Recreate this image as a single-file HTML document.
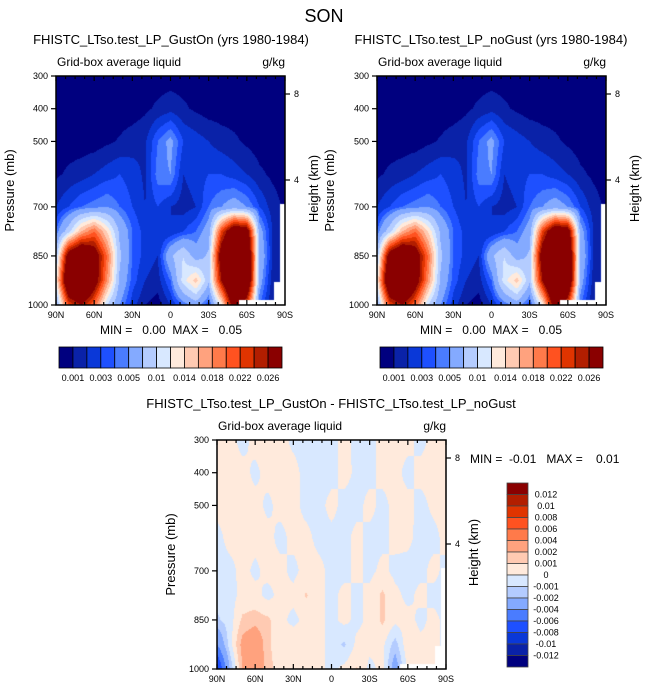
<!DOCTYPE html>
<html><head><meta charset="utf-8">
<style>
html,body{margin:0;padding:0;background:#fff;}
#wrap{position:relative;width:648px;height:694px;overflow:hidden;font-family:"Liberation Sans",Arial,sans-serif;}
canvas{position:absolute;}
svg{position:absolute;left:0;top:0;}
</style></head>
<body>
<div id="wrap">
<canvas id="c1" width="229" height="229" style="left:56px;top:76px"></canvas>
<canvas id="c2" width="229" height="229" style="left:377px;top:76px"></canvas>
<canvas id="c3" width="229" height="229" style="left:217px;top:440px"></canvas>
<svg id="s" width="648" height="694"></svg>
</div>
<script>
const lats=[90,80,70,60,50,40,30,20,10,0,-10,-20,-30,-40,-50,-60,-70,-80,-90];
const levs=[300,400,500,600,700,775,850,925,1000];
const liq300=[.0005,.0005,.0005,.0005,.0005,.0005,.0005,.0005,.0005,.0005,.0005,.0005,.0005,.0005,.0005,.0005,.0005,.0005,.0005];
const liq400=[.0005,.0005,.0005,.0005,.0005,.0005,.0005,.0008,.0012,.0016,.0012,.0008,.0005,.0005,.0005,.0005,.0005,.0005,.0005];
const liq500=[.0005,.0005,.0005,.0005,.0008,.0011,.0015,.0018,.004,.0055,.003,.0025,.002,.0015,.0012,.0008,.0005,.0005,.0005];
const liq600=[.0008,.0012,.0015,.002,.0025,.003,.0025,.0018,.0045,.005,.002,.0025,.003,.003,.0025,.002,.0012,.0008,.0005];
const liq700=[.002,.003,.004,.0045,.005,.004,.003,.002,.003,.002,.0015,.002,.004,.005,.006,.005,.003,.0015,.0008];
const liq775=[.004,.009,.016,.02,.014,.007,.004,.0025,.002,.002,.003,.004,.006,.022,.032,.03,.006,.002,.001];
const liq850=[.008,.03,.035,.03,.02,.008,.004,.0025,.002,.007,.01,.006,.008,.03,.04,.035,.007,.002,.001];
const liq925=[.012,.035,.04,.03,.018,.007,.0035,.002,.0015,.004,.011,.015,.008,.026,.04,.035,.006,.0015,.001];
const liq1000=[.006,.022,.026,.02,.01,.005,.0025,.001,.0005,.002,.004,.006,.003,.012,.03,.022,.004,.001,.001];
const liqB300=[.0005,.0005,.0005,.0005,.0005,.0005,.0005,.0005,.0005,.0005,.0005,.0005,.0005,.0005,.0005,.0005,.0005,.0005,.0005];
const dif300=[.0003,.0003,-.0003,.0003,.0003,.0003,-.0002,-.0003,-.0003,-.0003,.0003,-.0003,-.0003,.0003,.0003,.0003,-.0003,.0003,.0003];
const dif400=[.0003,.0004,.0003,-.0002,.0003,.0003,.0003,-.0003,-.0004,-.0003,.0003,-.0002,-.0003,.0003,.0003,-.0003,.0003,.0003,.0003];
const dif500=[.0003,.0003,.0003,.0003,-.0002,.0003,.0003,-.0003,-.0003,.0003,-.0003,-.0003,.0003,-.0003,.0003,.0003,-.0003,.0002,.0003];
const dif600=[-.0003,.0003,.0003,.0003,.0003,-.0003,.0003,.0003,-.0003,-.0003,-.0003,.0003,-.0003,-.0003,.0003,.0002,-.0003,-.0003,.0003];
const dif700=[-.0003,-.0003,.0003,-.0002,.0003,.0003,-.0003,.0004,.0003,-.0003,-.0003,.0003,-.0003,.0003,-.0003,-.0003,-.0003,.0003,-.0003];
const dif775=[-.0006,-.0004,.0003,.0003,-.0003,.0003,.0003,.0011,.0003,-.0003,.0003,-.0003,.0003,.0012,.0003,-.0003,.0003,-.0003,-.0003];
const dif850=[-.0012,-.0005,.0012,.0015,.0012,.0003,-.0003,.0003,.0003,-.0003,.0003,-.0003,.0003,.0012,.0003,.0004,-.0003,.0003,-.0003];
const dif925=[-.004,-.0005,.0025,.0035,.0012,.0003,.0008,.0003,.0003,-.0003,-.0012,.0003,.0003,.0003,-.0015,.0008,.0003,.0003,-.0003];
const dif1000=[-.009,-.002,.002,.003,.0015,.0003,.0003,.0003,.0003,-.0003,.0003,.0011,-.0003,.0003,-.003,.0003,.0003,.0003,-.0003];
const liqGrid=[liq300,liq400,liq500,liq600,liq700,liq775,liq850,liq925,liq1000];
const liqGrid2=[liqB300,liq400,liq500,liq600,liq700,liq775,liq850,liq925,liq1000];
const difGrid=[dif300,dif400,dif500,dif600,dif700,dif775,dif850,dif925,dif1000];
const topLevels=[.001,.002,.003,.004,.005,.0075,.01,.012,.014,.016,.018,.02,.022,.024,.026];
const topLabels=["0.001","0.003","0.005","0.01","0.014","0.018","0.022","0.026"];
const difLevels=[-.012,-.01,-.008,-.006,-.004,-.002,-.001,0,.001,.002,.004,.006,.008,.01,.012];
const difLabels=["-0.012","-0.01","-0.008","-0.006","-0.004","-0.002","-0.001","0","0.001","0.002","0.004","0.006","0.008","0.01","0.012"];
const palette=["#00007f","#0a22a8","#0a38d8","#1e50ff","#4a7cff","#84aaff","#b4ccff","#d8e8ff","#ffeadc","#ffcab2","#ffa27e","#ff7a4a","#ff5220","#e03400","#b21e00","#8a0000"];
const xTickLabels=["90N","60N","30N","0","30S","60S","90S"];
const pTicks=[300,400,500,700,850,1000];

function sample(grid,lat,p){
  let i=0;while(i<levs.length-2&&p>levs[i+1])i++;
  let j=0;while(j<lats.length-2&&lat<lats[j+1])j++;
  const tp=(p-levs[i])/(levs[i+1]-levs[i]);
  const tl=(lats[j]-lat)/(lats[j]-lats[j+1]);
  const a=grid[i][j],b=grid[i][j+1],c=grid[i+1][j],d=grid[i+1][j+1];
  return (a*(1-tl)+b*tl)*(1-tp)+(c*(1-tl)+d*tl)*tp;
}
function hex(h){return [parseInt(h.slice(1,3),16),parseInt(h.slice(3,5),16),parseInt(h.slice(5,7),16)];}
const pal=palette.map(hex);
function drawField(id,grid,levels){
  const cv=document.getElementById(id),ctx=cv.getContext('2d');
  const w=cv.width,h=cv.height,img=ctx.createImageData(w,h);
  for(let py=0;py<h;py++)for(let px=0;px<w;px++){
    const lat=90-180*(px+.5)/w,p=300+700*(py+.5)/h;
    let col;
    const miss=(lat<=-86&&p>690)||(lat<=-81&&p>930)||(lat<=-54&&p>985);
    if(miss)col=[255,255,255];else{
      const v=sample(grid,lat,p);let k=0;while(k<levels.length&&v>=levels[k])k++;col=pal[k];}
    const o=(py*w+px)*4;img.data[o]=col[0];img.data[o+1]=col[1];img.data[o+2]=col[2];img.data[o+3]=255;
  }
  ctx.putImageData(img,0,0);
}
drawField('c1',liqGrid,topLevels);
drawField('c2',liqGrid2,topLevels);
drawField('c3',difGrid,difLevels);

const S=document.getElementById('s'),NS="http://www.w3.org/2000/svg";
function el(tag,attrs,parent){const e=document.createElementNS(NS,tag);for(const k in attrs)e.setAttribute(k,attrs[k]);(parent||S).appendChild(e);return e;}
function txt(x,y,s,size,anchor,extra){const t=el('text',Object.assign({x:x,y:y,'font-size':size,'text-anchor':anchor||'middle','font-family':'Liberation Sans, Arial, sans-serif',fill:'#000'},extra||{}));t.textContent=s;return t;}

const title=txt(324,22,"SON",18);



function panel(x0,y0,name,titleStr,titleX,pLabelX,hLabelX){
  const W=229,H=229;
  const g=el('g',{});
  
  
  const xs=lat=>x0+(90-lat)/180*W, ys=p=>y0+(p-300)/700*H;
  el('rect',{x:x0,y:y0,width:W,height:H,fill:'none',stroke:'#000','stroke-width':1.5},g);
  for(let k=0;k<=24;k++){const lat=90-k*7.5,x=xs(lat),major=k%4===0,L=major?5:3;
    el('line',{x1:x,y1:y0+H,x2:x,y2:y0+H-L,stroke:'#000','stroke-width':1.2},g);
    el('line',{x1:x,y1:y0,x2:x,y2:y0+L,stroke:'#000','stroke-width':1.2},g);}
  xTickLabels.forEach((s,i)=>{const t=txt(xs(90-30*i),y0+H+13,s,9,'middle',{},g);g.appendChild(t);});
  pTicks.forEach(p=>{const y=ys(p);el('line',{x1:x0-5,y1:y,x2:x0,y2:y,stroke:'#000','stroke-width':1.2},g);
    const t=txt(x0-8,y+3,String(p),9,'end');g.appendChild(t);});
  [[8,y0+18],[4,y0+104]].forEach(([h,y])=>{el('line',{x1:x0+W,y1:y,x2:x0+W+5,y2:y,stroke:'#000','stroke-width':1.2},g);
    const t=txt(x0+W+9,y+3,String(h),9,'start');g.appendChild(t);});
  const tt=txt(titleX,y0-32,titleStr,13);g.appendChild(tt);
  const l=txt(x0+1,y0-10,"Grid-box average liquid",12,'start');g.appendChild(l);
  const u=txt(x0+W,y0-10,"g/kg",12,'end');g.appendChild(u);
  const pl=txt(0,0,"Pressure (mb)",13,'middle',{transform:`translate(${pLabelX},${y0+H/2}) rotate(-90)`});g.appendChild(pl);
  const hl=txt(0,0,"Height (km)",13,'middle',{transform:`translate(${hLabelX},${y0+H/2-2}) rotate(-90)`});g.appendChild(hl);
}
panel(56,76,'panel-gust-on',"FHISTC_LTso.test_LP_GustOn (yrs 1980-1984)",171,14,318);
panel(377,76,'panel-no-gust',"FHISTC_LTso.test_LP_noGust (yrs 1980-1984)",491,334,639);
panel(217,440,'panel-difference',"FHISTC_LTso.test_LP_GustOn - FHISTC_LTso.test_LP_noGust",331,175,478);

function minmax(x,y,s,name,anchor){const t=txt(x,y,s,12,anchor||'middle',{style:'white-space:pre'});}
minmax(171,334,"MIN =   0.00  MAX =   0.05",'min-max-gust-on');
minmax(491,334,"MIN =   0.00  MAX =   0.05",'min-max-no-gust');
minmax(470,463,"MIN =  -0.01   MAX =    0.01",'min-max-difference','start');

function hbar(x0,name){
  const g=el('g',{});
  
  
  const bw=223/16;
  palette.forEach((c,i)=>{el('rect',{x:x0+i*bw,y:347,width:bw,height:21,fill:c,stroke:'#000','stroke-width':0.8},g);});
  topLabels.forEach((s,i)=>{const t=txt(x0+(2*i+1)*bw,381,s,9,'middle');g.appendChild(t);});
}
hbar(59,'colorbar-gust-on');hbar(380,'colorbar-no-gust');

(function(){
  const g=el('g',{});
  
  
  const x0=507,y0=483,bh=184/16;
  palette.slice().reverse().forEach((c,i)=>{el('rect',{x:x0,y:y0+i*bh,width:21,height:bh,fill:c,stroke:'#444','stroke-width':0.8},g);});
  difLabels.slice().reverse().forEach((s,i)=>{const t=txt(546,y0+(i+1)*bh+3,s,9,'middle');g.appendChild(t);});
})();
</script>
</body></html>
